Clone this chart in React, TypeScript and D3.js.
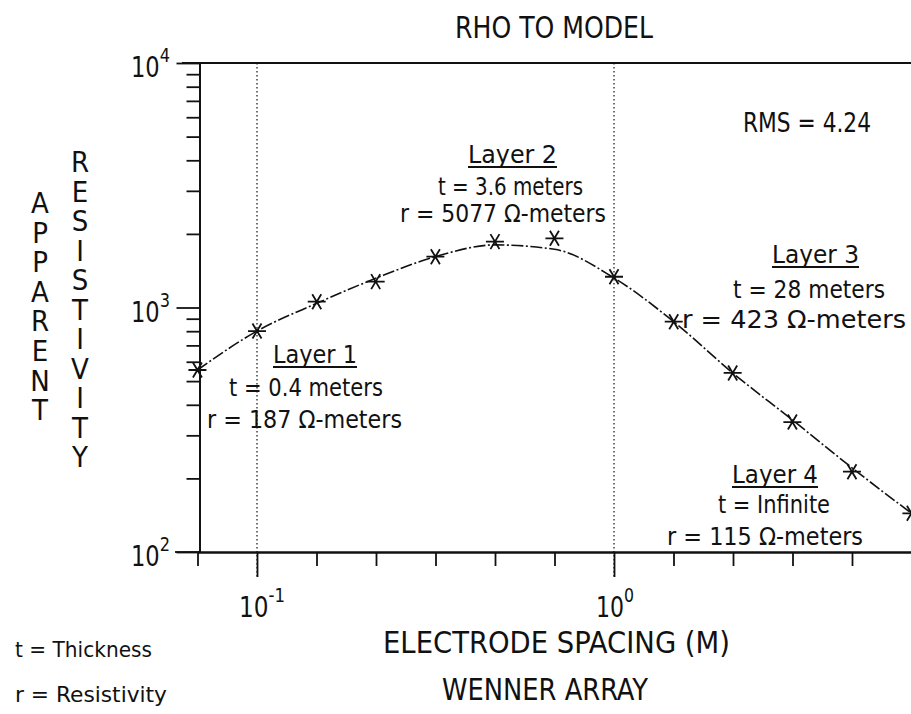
import React, { useEffect, useRef } from 'react';
import * as d3 from 'd3';

// electrode spacing (m) of the sounding points, 6 per decade
const spacing = [0.0681, 0.1, 0.147, 0.215, 0.316, 0.464, 0.681, 1.0, 1.47, 2.15, 3.16, 4.64, 6.81];
// measured apparent resistivity (asterisks)
const observed = [555, 801, 1056, 1276, 1614, 1859, 1919, 1336, 875, 540, 340, 213, 144];
// model curve
const model = [555, 801, 1040, 1316, 1614, 1803, 1730, 1321, 875, 540, 347, 221, 144];

const xMajorTicks = [0.1, 1];
const xMajorExp = ['-1', '0'];
const yMajorTicks = [100, 1000, 10000];
const yMajorExp = ['2', '3', '4'];

const layerNames = ['Layer 1', 'Layer 2', 'Layer 3', 'Layer 4'];
const layerThickness = ['t = 0.4 meters', 't = 3.6 meters', 't = 28 meters', 't = Infinite'];
const layerResistivity = ['r = 187 Ω-meters', 'r = 5077 Ω-meters', 'r = 423 Ω-meters', 'r = 115 Ω-meters'];

const FONT = "'Liberation Sans Narrow', 'DejaVu Sans Condensed', 'Liberation Sans', sans-serif";

const App = () => {
  const svgRef = useRef(null);

  useEffect(() => {
    const svg = d3.select(svgRef.current);
    svg.selectAll('*').remove();

    const x = d3.scaleLog().domain([Math.pow(10, -7 / 6), Math.pow(10, 5 / 6)]).range([197.5, 911.5]);
    const y = d3.scaleLog().domain([100, 10000]).range([552, 63]);

    const txt = (str, tx, ty, size, len, anchor = 'start') => {
      const t = svg.append('text')
        .attr('x', tx).attr('y', ty)
        .attr('font-family', FONT)
        .attr('font-size', size)
        .attr('text-anchor', anchor)
        .attr('fill', '#111')
        .text(str);
      if (len) t.attr('textLength', len).attr('lengthAdjust', 'spacingAndGlyphs');
      return t;
    };

    // power-of-ten label as one text with a raised exponent
    const pow10 = (exp, tx, ty, len) => {
      const t = svg.append('text')
        .attr('x', tx).attr('y', ty)
        .attr('font-family', FONT)
        .attr('font-size', 28)
        .attr('fill', '#111')
        .attr('textLength', len).attr('lengthAdjust', 'spacingAndGlyphs');
      t.append('tspan').text('10');
      t.append('tspan').attr('dy', -15).attr('font-size', 20).text(exp);
    };

    // dotted verticals at decades
    svg.append('g').selectAll('line').data(xMajorTicks).enter().append('line')
      .attr('x1', (d) => x(d)).attr('x2', (d) => x(d))
      .attr('y1', y(10000)).attr('y2', 577)
      .attr('stroke', '#222').attr('stroke-width', 1.3).attr('stroke-dasharray', '1.5,2.5');

    // y axis minor / major ticks
    const yMinor = [];
    [100, 1000].forEach((b) => { for (let i = 2; i <= 9; i++) yMinor.push(b * i); });
    svg.append('g').attr('transform', 'translate(199.5,0)')
      .call(d3.axisLeft(y).tickValues(yMinor).tickSize(13).tickSizeOuter(0).tickFormat(() => ''))
      .call((g) => g.selectAll('line,path').attr('stroke', '#111').attr('stroke-width', 1.8));
    svg.append('g').attr('transform', 'translate(199.5,0)')
      .call(d3.axisLeft(y).tickValues(yMajorTicks).tickSize(23).tickSizeOuter(0).tickFormat(() => ''))
      .call((g) => g.selectAll('line,path').attr('stroke', '#111').attr('stroke-width', 1.8));

    // x axis ticks
    const xMinor = d3.range(-7, 6).map((k) => Math.pow(10, k / 6)).filter((v) => Math.abs(Math.log10(v) % 1) > 0.01);
    svg.append('g').attr('transform', 'translate(0,552)')
      .call(d3.axisBottom(x).tickValues(xMinor).tickSize(14).tickSizeOuter(0).tickFormat(() => ''))
      .call((g) => g.selectAll('line,path').attr('stroke', '#111').attr('stroke-width', 1.8));
    svg.append('g').attr('transform', 'translate(0,552)')
      .call(d3.axisBottom(x).tickValues(xMajorTicks).tickSize(25).tickSizeOuter(0).tickFormat(() => ''))
      .call((g) => g.selectAll('line,path').attr('stroke', '#111').attr('stroke-width', 1.8));
    // x axis line stub to left, top frame
    svg.append('line').attr('x1', 175).attr('x2', 200).attr('y1', 552).attr('y2', 552)
      .attr('stroke', '#111').attr('stroke-width', 1.8);
    svg.append('line').attr('x1', 182).attr('x2', 911).attr('y1', y(10000)).attr('y2', y(10000))
      .attr('stroke', '#111').attr('stroke-width', 2);

    // tick labels
    yMajorTicks.forEach((v, i) => pow10(yMajorExp[i], 131, y(v) + 14, 39));
    xMajorTicks.forEach((v, i) => pow10(xMajorExp[i], x(v) - 18, 617, xMajorExp[i].length > 1 ? 46 : 38));

    // model curve
    const line = d3.line()
      .x((d) => x(d[0]))
      .y((d) => y(d[1]))
      .curve(d3.curveMonotoneX);
    svg.append('path')
      .datum(spacing.map((s, i) => [s, model[i]]))
      .attr('d', line)
      .attr('fill', 'none')
      .attr('stroke', '#111')
      .attr('stroke-width', 1.6)
      .attr('stroke-dasharray', '12,2.5,2,2.5');

    // asterisks
    const star = 'M-9,0L9,0M-4.5,-7.5L4.5,7.5M-4.5,7.5L4.5,-7.5';
    svg.append('g').selectAll('path').data(spacing).enter().append('path')
      .attr('transform', (d, i) => `translate(${x(d)},${y(observed[i])})`)
      .attr('d', star)
      .attr('stroke', '#111')
      .attr('stroke-width', 1.8)
      .attr('fill', 'none');

    // titles
    txt('RHO TO MODEL', 455, 38, 31, 198);
    txt('ELECTRODE SPACING (M)', 383, 653, 31, 347);
    txt('WENNER ARRAY', 442, 700, 31, 206);
    txt('RMS = 4.24', 743, 132, 27, 128);

    // vertical axis words, one letter per line
    const stacked = (word, cx, firstBase, step) => {
      const t = svg.append('text')
        .attr('font-family', FONT)
        .attr('font-size', 29)
        .attr('text-anchor', 'middle')
        .attr('fill', '#111');
      word.split('').forEach((c, i) => {
        t.append('tspan').attr('x', cx).attr('y', firstBase + i * step).text(c);
      });
    };
    stacked('APPARENT', 40, 213, 29.6);
    stacked('RESISTIVITY', 80, 172, 29.5);

    // layer annotations
    const layerPos = [
      { name: [273, 363, 84], t: [229, 396, 154], r: [207, 428, 195] },
      { name: [468, 163, 89], t: [438, 195, 145], r: [400, 222, 206] },
      { name: [772, 263, 87], t: [733, 298, 152], r: [682, 328, 224] },
      { name: [732, 483, 86], t: [718, 513, 112], r: [667, 545, 196] },
    ];
    layerNames.forEach((n, i) => {
      const p = layerPos[i];
      txt(n, p.name[0], p.name[1], 25, p.name[2]);
      svg.append('line')
        .attr('x1', p.name[0]).attr('x2', p.name[0] + p.name[2])
        .attr('y1', p.name[1] + 4).attr('y2', p.name[1] + 4)
        .attr('stroke', '#111').attr('stroke-width', 1.8);
      txt(layerThickness[i], p.t[0], p.t[1], 25, p.t[2]);
      txt(layerResistivity[i], p.r[0], p.r[1], 25, p.r[2]);
    });

    // legend notes
    txt('t = Thickness', 15, 657, 22, 137);
    txt('r = Resistivity', 15, 702, 22, 152);
  }, []);

  return (
    <svg ref={svgRef} width={911} height={714}
      style={{ position: 'absolute', left: 0, top: 0, background: '#fff' }} />
  );
};

export default App;
